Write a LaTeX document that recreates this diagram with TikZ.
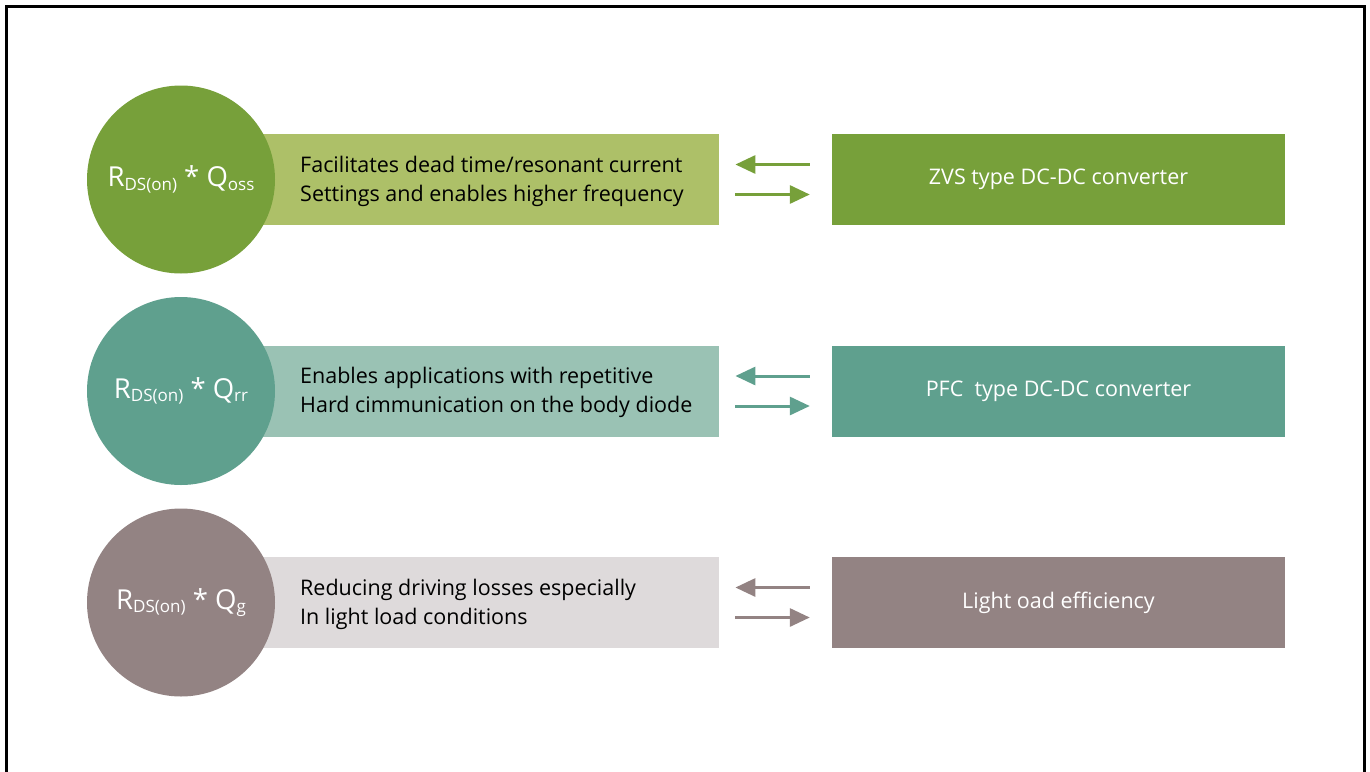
\documentclass[tikz,border=0pt]{standalone}
\usepackage{fontspec}
\setmainfont{Open Sans}
\usetikzlibrary{arrows.meta}

\definecolor{zvsdark}{RGB}{119,160,58}
\definecolor{zvslight}{RGB}{173,192,104}
\definecolor{pfcdark}{RGB}{95,160,142}
\definecolor{pfclight}{RGB}{154,194,180}
\definecolor{lightdark}{RGB}{147,131,131}
\definecolor{lightlight}{RGB}{222,218,219}

\newcommand{\lowsub}[1]{\raisebox{-0.25ex}{\fontsize{17}{17}\selectfont #1}}

\tikzset{
    fom/.style={circle, fill=#1, minimum size=188pt, inner sep=0pt, text=white,
        font=\fontsize{27.5}{30}\selectfont},
    descbox/.style={rectangle, fill=#1, minimum width=538pt, minimum height=91pt,
        inner sep=0pt, anchor=west},
    desctext/.style={anchor=west, align=left, inner sep=0pt,
        font=\fontsize{21.5}{29}\selectfont},
    appbox/.style={rectangle, fill=#1, minimum width=453pt, minimum height=91pt,
        inner sep=0pt, text=white, font=\fontsize{21.5}{29}\selectfont},
    flow/.style={draw=#1, line width=3pt, -{Triangle[length=20pt,width=18pt]}}
}

\begin{document}
\begin{tikzpicture}[x=1pt,y=-1pt]
    \useasboundingbox (0,0) rectangle (1370,771);
    \draw[line width=2.5pt] (6.5,790) -- (6.5,6.5) -- (1364.5,6.5) -- (1364.5,790);

    \node[descbox=zvslight] (d1) at (181,179.5) {};
    \node[descbox=pfclight] (d2) at (181,391) {};
    \node[descbox=lightlight] (d3) at (181,602.5) {};

    \node[fom=zvsdark] (c1) at (181,179.5) {R\lowsub{DS(on)} * Q\lowsub{oss}};
    \node[fom=pfcdark] (c2) at (181,391) {R\lowsub{DS(on)} * Q\lowsub{rr}};
    \node[fom=lightdark] (c3) at (181,602.5) {R\lowsub{DS(on)} * Q\lowsub{g}};

    \node[desctext] (t1) at (300,181) {Facilitates dead time/resonant current\\Settings and enables higher frequency};
    \node[desctext] (t2) at (300,392.5) {Enables applications with repetitive\\Hard cimmunication on the body diode};
    \node[desctext] (t3) at (300,604) {Reducing driving losses especially\\In light load conditions};

    \node[appbox=zvsdark] (a1) at (1058.5,179.5) {ZVS type DC-DC converter};
    \node[appbox=pfcdark] (a2) at (1058.5,391) {PFC\ \ type DC-DC converter};
    \node[appbox=lightdark] (a3) at (1058.5,602.5) {Light oad efficiency};

    \path[flow=zvsdark] ([xshift=-22pt,yshift=15pt]a1.west) -- ([xshift=16pt,yshift=15pt]d1.east);
    \path[flow=zvsdark] ([xshift=16pt,yshift=-15pt]d1.east) -- ([xshift=-22pt,yshift=-15pt]a1.west);
    \path[flow=pfcdark] ([xshift=-22pt,yshift=15pt]a2.west) -- ([xshift=16pt,yshift=15pt]d2.east);
    \path[flow=pfcdark] ([xshift=16pt,yshift=-15pt]d2.east) -- ([xshift=-22pt,yshift=-15pt]a2.west);
    \path[flow=lightdark] ([xshift=-22pt,yshift=15pt]a3.west) -- ([xshift=16pt,yshift=15pt]d3.east);
    \path[flow=lightdark] ([xshift=16pt,yshift=-15pt]d3.east) -- ([xshift=-22pt,yshift=-15pt]a3.west);
\end{tikzpicture}
\end{document}
